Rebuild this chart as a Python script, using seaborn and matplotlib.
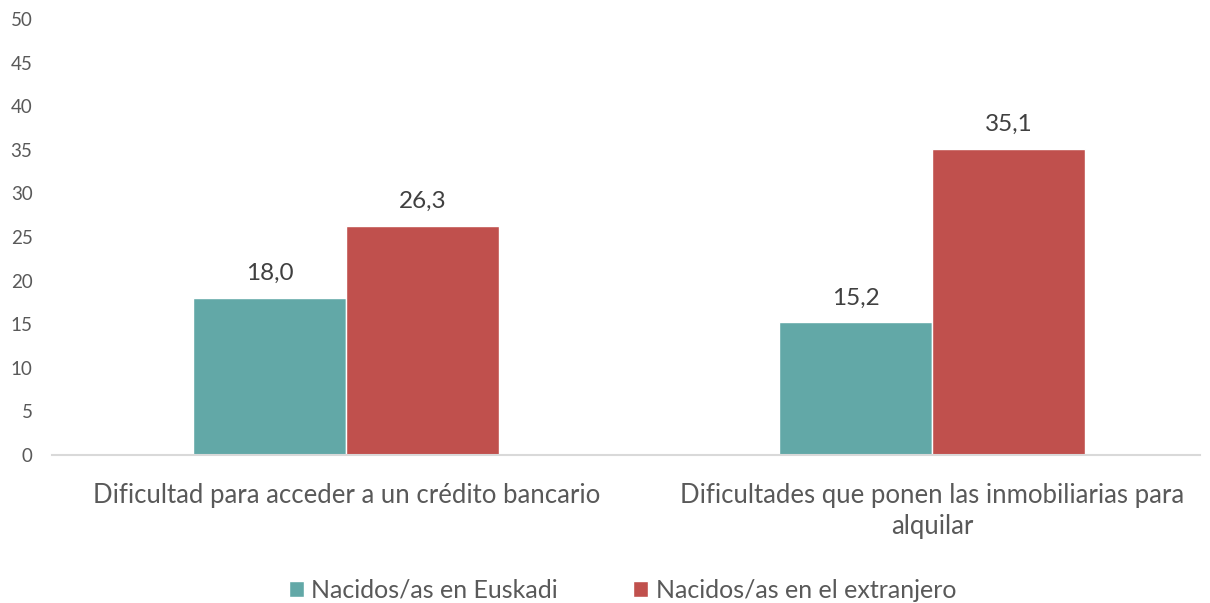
import pandas as pd
import matplotlib.pyplot as plt
import seaborn as sns

categories = ["Dificultad para acceder a un crédito bancario",
              "Dificultades que ponen las inmobiliarias para\nalquilar"]
series = ["Nacidos/as en Euskadi", "Nacidos/as en el extranjero"]
euskadi = [18.0, 15.2]
extranjero = [26.3, 35.1]
colors = ["#62A8A7", "#C0504D"]

df = pd.DataFrame({
    "cat": categories * 2,
    "serie": [series[0]] * 2 + [series[1]] * 2,
    "valor": euskadi + extranjero,
})

sns.set_style("white")
plt.rcParams["font.family"] = ["Lato", "DejaVu Sans"]
txt = "#595959"

fig = plt.figure(figsize=(12.1, 6.03), dpi=100)
ax = fig.add_axes([52 / 1210, 1 - 455 / 603, 1148 / 1210, 436 / 603])

sns.barplot(data=df, x="cat", y="valor", hue="serie", palette=colors,
            width=0.522, ax=ax, saturation=1, legend=True)

for c in ax.containers:
    ax.bar_label(c, labels=[f"{v:.1f}".replace(".", ",") for v in c.datavalues],
                 padding=10, fontsize=17.5, color="#404040")

ax.set_xlim(-0.502, 1.457)
ax.set_ylim(0, 50)
ax.set_yticks(range(0, 51, 5))
ax.set_xlabel("")
ax.set_ylabel("")
for s in ["top", "right", "left"]:
    ax.spines[s].set_visible(False)
ax.spines["bottom"].set_color("#D9D9D9")
ax.spines["bottom"].set_linewidth(1.5)
ax.tick_params(axis="y", labelsize=13.5, labelcolor=txt, length=0, pad=14)
ax.tick_params(axis="x", labelsize=18.5, labelcolor=txt, length=0, pad=20)
for t in ax.get_xticklabels():
    t.set_linespacing(1.3)

ax.legend(loc="center", bbox_to_anchor=(0.497, -0.31), ncol=2, frameon=False,
          fontsize=18, labelcolor=txt, handlelength=0.6, handleheight=0.6,
          handletextpad=0.3, columnspacing=3.0, borderpad=0)

plt.savefig("out.png", dpi=100)
